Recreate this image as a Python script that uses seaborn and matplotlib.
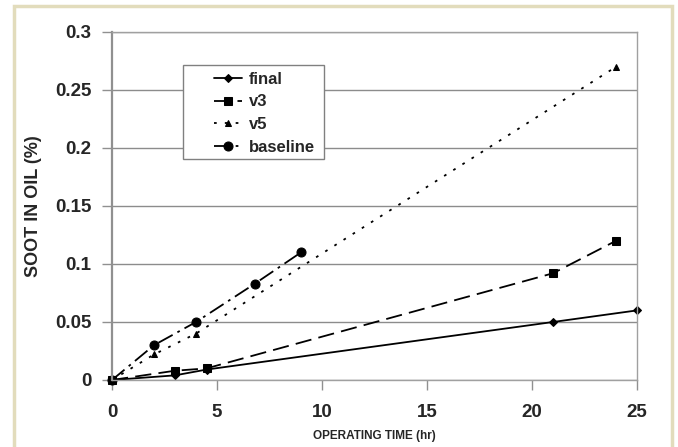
import matplotlib
matplotlib.use("Agg")
import matplotlib.pyplot as plt
import seaborn as sns
import pandas as pd
from matplotlib.patches import Rectangle

sns.set_style("white")
plt.rcParams['font.family'] = ['Liberation Sans', 'DejaVu Sans']
plt.rcParams['font.weight'] = 'bold'

final_x = [0, 3, 4.5, 21, 25]
final_y = [0, 0.004, 0.009, 0.05, 0.06]
v3_x = [0, 3, 4.5, 21, 24]
v3_y = [0, 0.008, 0.010, 0.092, 0.12]
v5_x = [0, 2, 4, 24]
v5_y = [0, 0.022, 0.04, 0.27]
base_x = [0, 2, 4, 6.8, 9]
base_y = [0, 0.03, 0.05, 0.083, 0.11]

names = ["final", "v3", "v5", "baseline"]
xs = [final_x, v3_x, v5_x, base_x]
ys = [final_y, v3_y, v5_y, base_y]
markers = ["D", "s", "^", "o"]
msizes = [4.5, 6, 5, 6.5]
styles = ["-", (0, (9, 4)), (0, (1.5, 4.5)), (0, (9, 3, 1.5, 3))]

fig = plt.figure(figsize=(6.78, 4.47), dpi=100)
ax = fig.add_axes([112/678, 1-380/447, (637-112)/678, (380-32)/447])

for n, x, y, m, ms, ls in zip(names, xs, ys, markers, msizes, styles):
    df = pd.DataFrame({"t": x, "v": y})
    sns.lineplot(data=df, x="t", y="v", ax=ax, color="black", marker=m,
                 markersize=ms, linestyle=ls, linewidth=1.3,
                 markeredgecolor="black", sort=False, label=n, clip_on=False)

ax.set_xlim(0, 25)
ax.set_ylim(0, 0.3)
ax.set_xticks([0, 5, 10, 15, 20, 25])
ax.set_xticklabels(["0", "5", "10", "15", "20", "25"])
ax.set_yticks([0, 0.05, 0.1, 0.15, 0.2, 0.25, 0.3])
ax.set_yticklabels(["0", "0.05", "0.1", "0.15", "0.2", "0.25", "0.3"])
ax.yaxis.grid(True, color="#8c8c8c", linewidth=1)
ax.xaxis.grid(False)
ax.set_axisbelow(True)
for s in ["top", "right", "bottom"]:
    ax.spines[s].set_color("#a0a0a0")
    ax.spines[s].set_linewidth(1)
ax.spines["left"].set_color("#909090")
ax.spines["left"].set_linewidth(1.6)
ax.tick_params(axis="both", which="both", direction="out", length=7, width=1,
               color="#909090", labelsize=13.5, bottom=True, left=True)
ax.tick_params(axis="x", pad=10)
ax.tick_params(axis="y", pad=8)
for lab in ax.get_xticklabels() + ax.get_yticklabels():
    lab.set_fontweight("bold")

ax.set_xlabel("OPERATING TIME (hr)", fontsize=8.5, fontweight="bold", labelpad=7)
ax.set_ylabel("SOOT IN OIL (%)", fontsize=13, fontweight="bold", labelpad=9)

# legend box (drawn as a panel) and frameless legend inside it
box = Rectangle(((183-112)/525, (380-159)/348), 141/525, 94/348,
                transform=ax.transAxes, facecolor="white", edgecolor="#808080",
                linewidth=1, zorder=4)
ax.add_patch(box)
leg = ax.legend(loc="upper left", bbox_to_anchor=((214-112)/525, (380-72)/348),
                borderaxespad=0, borderpad=0, frameon=False, handlelength=1.7,
                handletextpad=0.4, labelspacing=0.45,
                prop={"weight": "bold", "size": 12})
leg.set_zorder(5)

fig.patches.append(Rectangle((14/678, -0.1), (672-14)/678, (447-6)/447 + 0.1,
                             transform=fig.transFigure, fill=False,
                             edgecolor="#e2dcbc", linewidth=2.5))

fig.savefig("out.png", dpi=100)
